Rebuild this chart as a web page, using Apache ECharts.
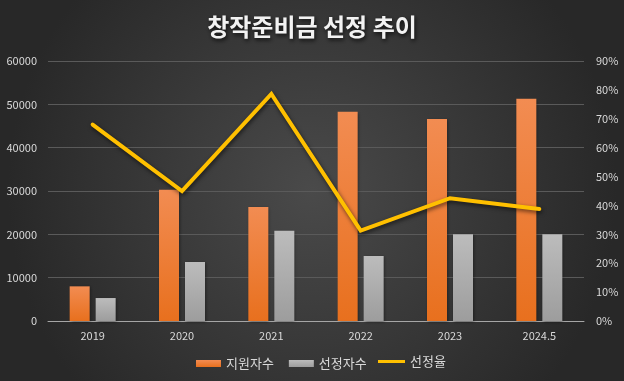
<!DOCTYPE html>
<html><head><meta charset="utf-8">
<script src="https://cdn.jsdelivr.net/npm/echarts@6/dist/echarts.min.js"></script>
<style>html,body{margin:0;padding:0;}#c{width:624px;height:381px;}</style>
</head><body><div id="c"></div>
<script>
const categories = ['2019','2020','2021','2022','2023','2024.5'];
const applicants = [8000, 30300, 26300, 48300, 46600, 51300];
const selected = [5300, 13600, 20800, 15000, 20000, 20000];
const selectionRate = [68, 45, 78.6, 31.3, 42.5, 38.8];
const leftTicks = {min: 0, max: 60000, interval: 10000};
const rightTicks = {min: 0, max: 90, interval: 10};

const chart = echarts.init(document.getElementById('c'));
const font = '"Noto Sans CJK KR", "Noto Sans", sans-serif';
const legendText = {color:'#d9d9d9', fontSize:13, fontFamily:font};
chart.setOption({
  backgroundColor: {type:'radial', x:0.5, y:0.5, r:0.8,
    colorStops:[{offset:0,color:'#4a4a4a'},{offset:1,color:'#282828'}]},
  title: {text:'창작준비금 선정 추이', left:'center', top:10,
    textStyle:{color:'#f2f2f2', fontSize:24, fontWeight:'bold', fontFamily:font,
      textShadowColor:'rgba(0,0,0,0.8)', textShadowBlur:4, textShadowOffsetX:1, textShadowOffsetY:2}},
  legend: [
    {left:191, bottom:6, itemWidth:25, itemHeight:7, itemGap:15, itemSymbolGap:3, textStyle:legendText,
     data:[{name:'지원자수', icon:'rect'},{name:'선정자수', icon:'rect'}]},
    {left:373, bottom:8, itemWidth:27, itemHeight:3, textStyle:legendText,
     data:[{name:'선정율', icon:'rect'}]}
  ],
  grid: {left:48, right:40, top:61, bottom:60},
  xAxis: {type:'category', data:categories,
    axisLine:{lineStyle:{color:'#a6a6a6', width:1}}, axisTick:{show:false},
    axisLabel:{color:'#d9d9d9', fontSize:11, fontFamily:font, margin:9}},
  yAxis: [
    {type:'value', min:leftTicks.min, max:leftTicks.max, interval:leftTicks.interval,
     axisLabel:{color:'#d9d9d9', fontSize:11, fontFamily:font, margin:11, formatter: v => String(v)},
     splitLine:{lineStyle:{color:'#5a5a5a', width:1}}, axisLine:{show:false}, axisTick:{show:false}},
    {type:'value', min:rightTicks.min, max:rightTicks.max, interval:rightTicks.interval,
     axisLabel:{color:'#d9d9d9', fontSize:11, fontFamily:font, margin:12, formatter:'{value}%'},
     splitLine:{show:false}, axisLine:{show:false}, axisTick:{show:false}}
  ],
  series: [
    {name:'지원자수', type:'bar', data:applicants, barWidth:20, barGap:'30%',
     itemStyle:{color:{type:'linear',x:0,y:0,x2:0,y2:1,
       colorStops:[{offset:0,color:'#f28c52'},{offset:1,color:'#e8701e'}]},
       shadowColor:'rgba(0,0,0,0.4)', shadowBlur:3, shadowOffsetX:1, shadowOffsetY:1}},
    {name:'선정자수', type:'bar', data:selected, barWidth:20,
     itemStyle:{color:{type:'linear',x:0,y:0,x2:0,y2:1,
       colorStops:[{offset:0,color:'#bcbcbc'},{offset:1,color:'#9d9d9d'}]},
       shadowColor:'rgba(0,0,0,0.4)', shadowBlur:3, shadowOffsetX:1, shadowOffsetY:1}},
    {name:'선정율', type:'line', yAxisIndex:1, data:selectionRate, symbol:'none',
     itemStyle:{color:'#ffc000'},
     lineStyle:{color:'#ffc000', width:4, cap:'round', join:'miter',
       shadowColor:'rgba(0,0,0,0.6)', shadowBlur:4, shadowOffsetX:1, shadowOffsetY:2}}
  ],
  animation:false
});
</script></body></html>
